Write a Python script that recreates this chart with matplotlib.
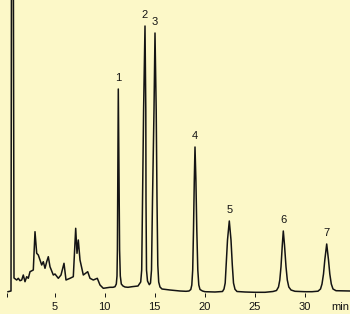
import matplotlib
matplotlib.use("Agg")
import matplotlib.pyplot as plt

# chromatogram trace: time (min) and detector signal (arb. units)
time_min = [
    0.35, 0.65, 0.71, 0.87, 0.95, 1.22,
    1.38, 1.55, 1.72, 1.88, 2.05, 2.22, 2.38, 2.55, 2.88, 3.05, 3.22, 3.38,
    3.55, 3.72, 3.88, 4.05, 4.22, 4.38, 4.55, 4.88, 5.05, 5.38, 5.65, 5.95,
    6.15, 6.55, 6.88, 7.12, 7.25, 7.38, 7.55, 7.88, 8.32, 8.55, 8.88, 9.28,
    9.55, 9.88, 10.55,
    10.85, 11.05, 11.18, 11.25, 11.29, 11.33, 11.38, 11.44, 11.51, 11.58, 11.68, 11.85, 12.05,
    12.35, 12.75, 13.35,
    13.62, 13.72, 13.80, 13.91, 14.05, 14.13, 14.15, 14.20, 14.30, 14.48,
    14.60, 14.70, 14.80, 14.95, 15.05, 15.17, 15.25, 15.33, 15.42, 15.55, 15.75,
    16.55, 17.55,
    18.15, 18.45, 18.63, 18.73, 18.82, 18.90, 18.98, 19.05, 19.14, 19.23, 19.33, 19.43, 19.55, 19.80, 20.05,
    21.05,
    21.80, 21.95, 22.07, 22.17, 22.30, 22.48, 22.65, 22.78, 22.90, 23.05, 23.25, 24.05,
    25.05, 26.05,
    26.85, 27.20, 27.40, 27.53, 27.65, 27.78, 27.88, 28.00, 28.15, 28.28, 28.43, 28.65, 29.05,
    30.05, 30.75,
    31.35, 31.60, 31.75, 31.90, 32.03, 32.22, 32.40, 32.53, 32.68, 32.85, 33.15, 34.55,
]
signal = [
    -1.7, -1.0, 400, 400, 12, 10,
    11.7, 9.3, 10, 15, 8.3, 13.3, 11.7, 18.3, 20, 58.3, 36.7, 35,
    30, 25, 28.3, 21.7, 28.3, 33.3, 23.3, 15, 16, 11.7, 15, 26.7,
    10, 11.7, 13.3, 61.7, 36.7, 50, 30, 15, 18.3, 11.7, 10, 11.7,
    5, 1.7, 2.7,
    2.7, 3.3, 6, 14, 40, 120, 201, 120, 40, 14, 6, 4, 3,
    2.7, 3.3, 4,
    8, 20, 90, 180, 264, 180, 90, 20, 9, 5.3,
    7, 20, 90, 180, 257, 180, 90, 25, 8, 3, 1,
    0, -1,
    -1.3, -1, 0.5, 5, 20, 60, 110, 143, 110, 60, 20, 5, 0.5, -1, -1.7,
    -2,
    -1.5, 1, 7, 25, 50, 69, 50, 25, 7, 0.7, -1.5, -2,
    -2.3, -2.3,
    -1.5, -0.5, 3, 10, 23.3, 45, 59, 45, 23.3, 10, 3, 0, -1.3,
    -1.7, -1.7,
    -1.2, 1, 6, 16, 30, 46, 30, 16, 6, 1, -0.7, -1,
]

# numbered peaks: retention time and apex signal
peak_labels = ["1", "2", "3", "4", "5", "6", "7"]
peak_rt = [11.38, 14.05, 15.05, 19.05, 22.48, 27.88, 32.22]
peak_top = [201, 264, 257, 143, 69, 59, 46]

tick_pos = [0.2, 5, 10, 15, 20, 25, 30, 33.55]
tick_text = ["", "5", "10", "15", "20", "25", "30", "min"]

bg = "#fcf8c8"
ink = "#141414"

fig = plt.figure(figsize=(3.5, 3.14), dpi=100, facecolor=bg)
ax = fig.add_axes([0, 17 / 314, 1, 297 / 314])
ax.set_facecolor(bg)

ax.plot(time_min, signal, color=ink, lw=1.1, solid_joinstyle="round")

for lab, rt, top in zip(peak_labels, peak_rt, peak_top):
    ax.annotate(lab, xy=(rt, top), xytext=(0, 8), textcoords="offset points",
                ha="center", va="center", fontsize=8, color=ink,
                family="Liberation Sans")

ax.set_xlim(-0.45, 34.55)
ax.set_ylim(-7, 290)
for s in ax.spines.values():
    s.set_visible(False)
ax.set_yticks([])
ax.set_xticks(tick_pos)
ax.set_xticklabels(tick_text, fontsize=8, color=ink, family="Liberation Sans")
ax.tick_params(axis="x", direction="in", length=3, width=0.7, color=ink, pad=3.5)
ax.xaxis.get_major_ticks()[-1].tick1line.set_visible(False)

fig.savefig("out.png", dpi=100, facecolor=bg)
